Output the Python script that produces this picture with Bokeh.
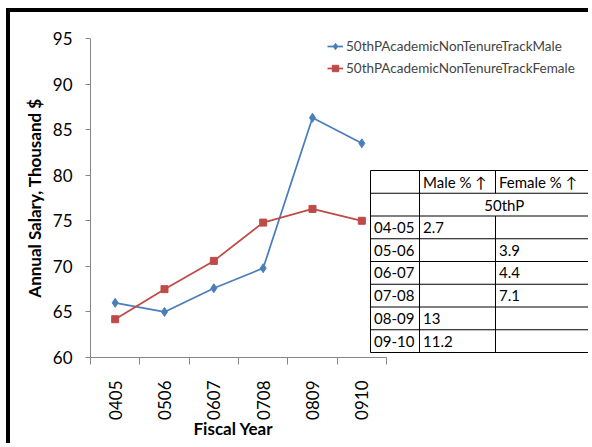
import math
from bokeh.plotting import figure
from bokeh.models import Range1d, FixedTicker, Legend, LegendItem, Title
from bokeh.core.properties import value
from bokeh.embed import file_html
from bokeh.resources import INLINE

# ---------------- data ----------------
years = ["0405", "0506", "0607", "0708", "0809", "0910"]
male = [66.0, 65.0, 67.6, 69.8, 86.3, 83.5]
female = [64.2, 67.5, 70.6, 74.8, 76.3, 75.0]
series_names = ["50thPAcademicNonTenureTrackMale", "50thPAcademicNonTenureTrackFemale"]
y_ticks = [60, 65, 70, 75, 80, 85, 90, 95]

table_header = ["", "Male % \u2191", "Female % \u2191"]
table_group = "50thP"
table_rows = ["04-05", "05-06", "06-07", "07-08", "08-09", "09-10"]
table_male = ["2.7", "", "", "", "13", "11.2"]
table_female = ["", "3.9", "4.4", "7.1", "", ""]

# ---------------- layout (page pixels) ----------------
OFF_X, OFF_Y = 10, 12          # canvas origin on the page (after the black edge)
W, H = 592 - OFF_X, 447 - OFF_Y
FRAME_L, FRAME_T, FRAME_B, FRAME_R = 90, 38, 357, 589
B_LEFT = FRAME_L - OFF_X
B_TOP = FRAME_T - OFF_Y
B_BOTTOM = OFF_Y + H - FRAME_B
B_RIGHT = OFF_X + W - FRAME_R
FRAME_W = FRAME_R - FRAME_L
FRAME_H = FRAME_B - FRAME_T
CAT_PX = 296 / 6.0
Y0, Y1 = 60, 95

def px_to_x(px):
    return 0.5 + (px - FRAME_L) / CAT_PX

def py_to_y(py):
    return Y0 + (FRAME_B - py) * (Y1 - Y0) / FRAME_H

FONT = "Lato"
BLUE = "#4A7EBB"
RED = "#BE4B48"
AXIS_C = "#868686"

p = figure(width=W, height=H, output_backend="svg", toolbar_location=None,
           x_range=Range1d(0.5, 0.5 + FRAME_W / CAT_PX), y_range=Range1d(Y0, Y1),
           min_border_left=B_LEFT, min_border_top=B_TOP,
           min_border_bottom=B_BOTTOM, min_border_right=B_RIGHT)
p.border_fill_color = "white"
p.outline_line_color = None
p.xgrid.visible = False
p.ygrid.visible = False
p.styles = {"margin-left": "6px", "margin-top": "8px",
            "border-left": "4px solid black", "border-top": "4px solid black"}

xs = [i + 1 for i in range(len(years))]

l1 = p.line(xs, male, line_color=BLUE, line_width=1.75)
s1 = p.scatter(xs, male, marker="diamond", size=9, fill_color=BLUE, line_color=BLUE)
l2 = p.line(xs, female, line_color=RED, line_width=1.75)
s2 = p.scatter(xs, female, marker="square", size=7, fill_color=RED, line_color=RED)

# x axis
xa = p.xaxis[0]
xa.ticker = FixedTicker(ticks=xs, minor_ticks=[i + 0.5 for i in range(len(years) + 1)])
xa.major_label_overrides = {x: y for x, y in zip(xs, years)}
xa.bounds = (0.5, len(years) + 0.5)
xa.major_tick_line_color = None
xa.major_tick_out = 0
xa.major_tick_in = 0
xa.minor_tick_line_color = AXIS_C
xa.minor_tick_out = 7
xa.minor_tick_in = 0
xa.axis_line_color = AXIS_C
xa.major_label_orientation = math.pi / 2
xa.major_label_standoff = 16
xa.major_label_text_font = FONT
xa.major_label_text_font_size = "17px"
xa.major_label_text_color = "#000000"

# y axis
ya = p.yaxis[0]
ya.ticker = FixedTicker(ticks=y_ticks)
ya.minor_tick_line_color = None
ya.major_tick_line_color = AXIS_C
ya.major_tick_out = 5
ya.major_tick_in = 0
ya.axis_line_color = AXIS_C
ya.major_label_standoff = 13
ya.major_label_text_font = FONT
ya.major_label_text_font_size = "17px"
ya.major_label_text_color = "#000000"
ya.axis_label = "Annual Salary, Thousand $"
ya.axis_label_text_font = FONT
ya.axis_label_text_font_style = "bold"
ya.axis_label_text_font_size = "17px"
ya.axis_label_text_color = "#000000"
ya.axis_label_standoff = 5

# x axis title, centred under the six categories
xt = Title(text="Fiscal Year", align="left", offset=193 - FRAME_L, standoff=-13,
           text_font=FONT, text_font_style="bold", text_font_size="17px",
           text_color="#000000")
p.add_layout(xt, "below")

# legend
legend = Legend(items=[LegendItem(label=series_names[0], renderers=[l1, s1]),
                       LegendItem(label=series_names[1], renderers=[l2, s2])],
                location=(237, 279))
legend.label_text_font = FONT
legend.label_text_font_size = "13.5px"
legend.glyph_width = 16
legend.glyph_height = 20
legend.label_height = 20
legend.spacing = 2
legend.padding = 0
legend.margin = 0
legend.label_standoff = 3
legend.border_line_alpha = 0
legend.background_fill_alpha = 0
p.add_layout(legend)

# table
col_px = [370, 419, 495, 588.5]
row_h = 22.75
row_px = [170 + i * row_h for i in range(9)]
tx = [px_to_x(c) for c in col_px]
ty = [py_to_y(r) for r in row_px]

p.quad(left=[tx[0]], right=[tx[3]], top=[ty[0]], bottom=[ty[8]],
       fill_color="white", line_color=None)

x0s, y0s, x1s, y1s = [], [], [], []
for yy in ty:
    x0s.append(tx[0]); x1s.append(tx[3]); y0s.append(yy); y1s.append(yy)
for xx in (tx[0], tx[1], tx[3]):
    x0s.append(xx); x1s.append(xx); y0s.append(ty[0]); y1s.append(ty[8])
x0s.append(tx[2]); x1s.append(tx[2]); y0s.append(ty[0]); y1s.append(ty[1])
x0s.append(tx[2]); x1s.append(tx[2]); y0s.append(ty[2]); y1s.append(ty[8])
p.segment(x0=x0s, y0=y0s, x1=x1s, y1=y1s, line_color="#000000", line_width=1)

pad = 3.5 / CAT_PX
txt_x, txt_y, txt = [], [], []
def cell(ci, ri, s):
    if s:
        txt_x.append(tx[ci] + pad)
        txt_y.append((ty[ri] + ty[ri + 1]) / 2.0)
        txt.append(s)
for ci, s in enumerate(table_header):
    cell(ci, 0, s)
for ri, (a, b, c) in enumerate(zip(table_rows, table_male, table_female)):
    cell(0, ri + 2, a)
    cell(1, ri + 2, b)
    cell(2, ri + 2, c)
p.text(x=txt_x, y=txt_y, text=txt, text_font=value(FONT), text_font_size="15px",
       text_baseline="middle", text_align="left", text_color="#000000")
p.text(x=[(tx[1] + tx[3]) / 2.0], y=[(ty[1] + ty[2]) / 2.0], text=[table_group],
       text_font=value(FONT), text_font_size="15px", text_baseline="middle",
       text_align="center", text_color="#000000")

open("out.html", "w").write(file_html(p, INLINE))
